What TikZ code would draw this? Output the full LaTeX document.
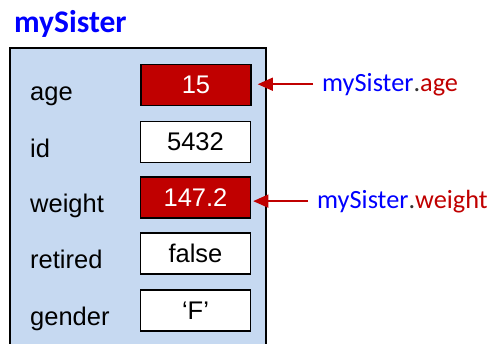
\documentclass[tikz,border=0pt]{standalone}
\usepackage{fontspec}
\setmainfont{Liberation Sans}
\newfontfamily\calibrifont{Carlito}
\usetikzlibrary{arrows.meta}
\definecolor{boxblue}{RGB}{198,217,241}
\definecolor{valred}{RGB}{192,0,0}
\definecolor{titleblue}{RGB}{0,0,255}
\begin{document}
\begin{tikzpicture}[x=1pt,y=-1pt,
  valbox/.style={draw, line width=1.5pt, minimum width=110pt, minimum height=41pt, fill=white, inner sep=0pt, font=\fontsize{25.5}{30}\selectfont},
  redbox/.style={valbox, fill=valred, text=white},
  fieldlbl/.style={anchor=base west, inner sep=0pt, font=\fontsize{25.5}{30}\selectfont},
  reflbl/.style={anchor=base west, inner sep=0pt, font=\calibrifont\fontsize{26.3}{30}\selectfont, text=titleblue},
  refarrow/.style={valred, line width=1.5pt, -{Triangle[length=15pt,width=13pt]}}
]
\useasboundingbox (0,0) rectangle (492,343);
\clip (0,0) rectangle (492,343);
\draw[line width=1.6pt, fill=boxblue] (10,48) rectangle (266,370);
\node[anchor=base west, inner sep=0pt, font=\calibrifont\bfseries\fontsize{31.5}{36}\selectfont, text=titleblue] (title) at (14,32) {mySister};

\node[redbox] (agebox) at (196,85) {15};
\node[valbox] (idbox) at (195.5,142) {5432};
\node[redbox] (weightbox) at (195.5,197.5) {147.2};
\node[valbox] (retiredbox) at (195.5,253.5) {false};
\node[valbox] (genderbox) at (195.5,310.5) {‘F’};

\node[fieldlbl] (agelbl) at (30,100) {age};
\node[fieldlbl] (idlbl) at (30,157) {id};
\node[fieldlbl] (weightlbl) at (30,212) {weight};
\node[fieldlbl] (retiredlbl) at (30,268) {retired};
\node[fieldlbl] (genderlbl) at (30,325) {gender};

\node[reflbl] (ageref) at (322,91) {mySister\textcolor{black!80}{.}\textcolor{valred}{age}};
\node[reflbl] (weightref) at (317,208) {mySister\textcolor{black!80}{.}\textcolor{valred}{weight}};

\draw[refarrow, shorten <=9pt, shorten >=6pt] (ageref.west) -- (ageref.west -| agebox.east);
\draw[refarrow, shorten <=9pt, shorten >=2pt] (weightref.west) -- (weightref.west -| weightbox.east);
\end{tikzpicture}
\end{document}
